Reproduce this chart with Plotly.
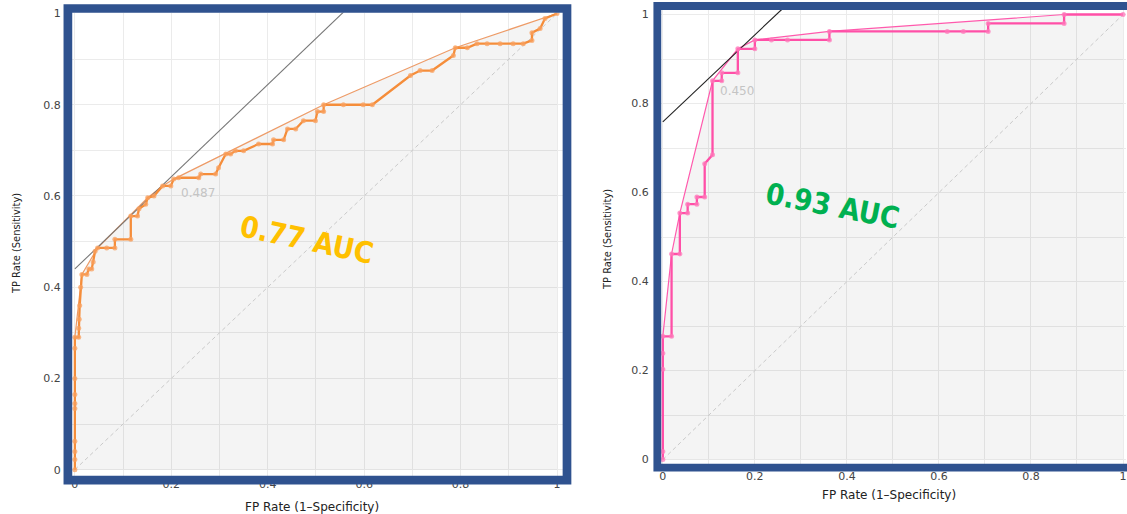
import plotly.graph_objects as go

W, H = 1127, 514

# ---- ROC points (FP rate, TP rate) ----
fpr_a = [0, 0, 0, 0, 0, 0, 0, 0, 0, 0,
         0.008, 0.008, 0.009, 0.010, 0.012, 0.0145, 0.025, 0.029, 0.035, 0.038,
         0.042, 0.047, 0.066, 0.083, 0.083, 0.116, 0.116, 0.130, 0.133, 0.147,
         0.151, 0.164, 0.182, 0.199, 0.205, 0.215, 0.257, 0.261, 0.292, 0.298,
         0.313, 0.323, 0.333, 0.350, 0.381, 0.410, 0.412, 0.433, 0.441, 0.458,
         0.474, 0.499, 0.503, 0.516, 0.516, 0.557, 0.598, 0.617, 0.696, 0.716,
         0.741, 0.785, 0.789, 0.814, 0.834, 0.855, 0.882, 0.909, 0.930, 0.948,
         0.948, 0.965, 0.975, 1.0]
tpr_a = [0, 0.022, 0.040, 0.062, 0.134, 0.145, 0.165, 0.200, 0.266, 0.290,
         0.290, 0.310, 0.330, 0.360, 0.400, 0.428, 0.428, 0.440, 0.440, 0.455,
         0.479, 0.486, 0.486, 0.486, 0.505, 0.505, 0.556, 0.556, 0.572, 0.582,
         0.596, 0.600, 0.622, 0.622, 0.637, 0.640, 0.640, 0.648, 0.648, 0.662,
         0.692, 0.692, 0.699, 0.699, 0.714, 0.714, 0.723, 0.723, 0.747, 0.747,
         0.765, 0.765, 0.785, 0.785, 0.800, 0.800, 0.800, 0.800, 0.864, 0.875,
         0.875, 0.908, 0.925, 0.925, 0.934, 0.934, 0.934, 0.934, 0.934, 0.941,
         0.958, 0.967, 0.989, 1.0]

fpr_b = [0, 0, 0, 0, 0, 0.019, 0.019, 0.037, 0.037, 0.054,
         0.054, 0.074, 0.074, 0.091, 0.091, 0.108, 0.108, 0.128, 0.128, 0.163,
         0.163, 0.200, 0.200, 0.236, 0.271, 0.362, 0.362, 0.618, 0.653, 0.707,
         0.707, 0.872, 0.872, 1.0]
tpr_b = [0, 0.018, 0.203, 0.239, 0.277, 0.277, 0.462, 0.462, 0.554, 0.554,
         0.574, 0.574, 0.590, 0.590, 0.665, 0.685, 0.851, 0.851, 0.869, 0.869,
         0.923, 0.923, 0.943, 0.943, 0.943, 0.943, 0.962, 0.962, 0.962, 0.962,
         0.980, 0.980, 1.0, 1.0]

# optimal-threshold tangent lines and their threshold labels
tangent_a_x = [0, 0.56]
tangent_a_y = [0.44, 1.006]
tangent_b_x = [0, 0.26]
tangent_b_y = [0.759, 1.013]
threshold_a = {"text": "0.487", "x": 0.217, "y": 0.607}
threshold_b = {"text": "0.450", "x": 0.119, "y": 0.829}

auc_a = 0.77
auc_b = 0.93

diag = [0, 1]


def upper_hull(xs, ys):
    pts = sorted(set(zip(xs, ys)))
    hull = []
    for p in pts:
        while len(hull) >= 2:
            (x1, y1), (x2, y2) = hull[-2], hull[-1]
            cross = (x2 - x1) * (p[1] - y1) - (y2 - y1) * (p[0] - x1)
            if cross >= 0:
                hull.pop()
            else:
                break
        hull.append(p)
    return [h[0] for h in hull], [h[1] for h in hull]


# vertical layout helper: pixel row -> paper fraction
V_OFF, V_SCALE = 4.5, 0.982


def py(p):
    return 1 - ((p - V_OFF) / V_SCALE) / H


def px(p):
    return p / W


fig = go.Figure()


def add_panel(xs, ys, tx, ty, color, marker_color, hull_color, tan_color, xa, ya):
    hx, hy = upper_hull(xs, ys)
    fig.add_trace(go.Scatter(x=hx, y=hy, mode="lines", fill="tozeroy",
                             fillcolor="rgba(0,0,0,0.045)",
                             line=dict(color=hull_color, width=1.2),
                             hoverinfo="skip", xaxis=xa, yaxis=ya))
    fig.add_trace(go.Scatter(x=diag, y=diag, mode="lines",
                             line=dict(color="#c9c9c9", width=1, dash="4px,3px"),
                             hoverinfo="skip", xaxis=xa, yaxis=ya))
    fig.add_trace(go.Scatter(x=tx, y=ty, mode="lines",
                             line=dict(color=tan_color, width=1.1),
                             hoverinfo="skip", xaxis=xa, yaxis=ya))
    fig.add_trace(go.Scatter(x=xs, y=ys, mode="lines+markers",
                             line=dict(color=color, width=2.3),
                             marker=dict(color=marker_color, size=5),
                             xaxis=xa, yaxis=ya))


add_panel(fpr_a, tpr_a, tangent_a_x, tangent_a_y, "#F58D3A",
          "rgba(248,160,95,0.75)", "rgba(236,150,95,0.95)", "#777777", "x", "y")
add_panel(fpr_b, tpr_b, tangent_b_x, tangent_b_y, "#FF4FA7",
          "rgba(255,120,185,0.75)", "#FF5AAD", "#222222", "x2", "y2")

grid = "#ebebeb"
tick_font = dict(family="DejaVu Sans", size=11, color="#444")


def axis(domain, rng, standoff):
    return dict(domain=domain, range=rng, dtick=0.2, tick0=0,
                showgrid=True, gridcolor=grid, gridwidth=1,
                minor=dict(dtick=0.1, tick0=0, showgrid=True, gridcolor=grid),
                zeroline=False, showline=False, ticks="",
                tickfont=tick_font, ticklabelstandoff=standoff,
                ticklabeloverflow="allow", fixedrange=True)


# left panel: x=0 at px 74, x=1 at px 557; y=0 at row 468, y=1 at row 13
# right panel: x=0 at px 663, x=1 at px 1124; y=0 at row 458, y=1 at row 14
fig.update_layout(
    xaxis=dict(**axis([px(71), px(563)], [(71 - 74) / 483, (563 - 74) / 483], 0), anchor="y"),
    yaxis=dict(**axis([py(474), py(12)], [(468 - 474) / 455, (468 - 12) / 455], 10), anchor="x"),
    xaxis2=dict(**axis([px(660), 1.0], [(660 - 663) / 461, (1127 - 663) / 461], 4), anchor="y2"),
    yaxis2=dict(**axis([py(462), py(9)], [(458 - 462) / 444, (458 - 9) / 444], 10), anchor="x2"),
)

frame = "#2F528F"
shapes = [
    dict(type="rect", xref="paper", yref="paper", layer="above",
         x0=px(67), x1=px(567), y0=py(478.5), y1=py(8),
         line=dict(color=frame, width=8.7), fillcolor="rgba(0,0,0,0)"),
    dict(type="rect", xref="paper", yref="paper", layer="above",
         x0=px(657.5), x1=1.03, y0=py(466), y1=py(5.5),
         line=dict(color=frame, width=7.8), fillcolor="rgba(0,0,0,0)"),
]

title_font = dict(family="DejaVu Sans", size=12, color="#222")
ytitle_font = dict(family="DejaVu Sans Condensed, DejaVu Sans", size=11, color="#222")
auc_font = "DejaVu Sans Condensed, DejaVu Sans, sans-serif"

annotations = [
    dict(text="FP Rate (1–Specificity)", xref="paper", yref="paper",
         x=px(312), y=py(505), showarrow=False, font=title_font,
         xanchor="center", yanchor="middle"),
    dict(text="FP Rate (1–Specificity)", xref="paper", yref="paper",
         x=px(890), y=py(493), showarrow=False, font=title_font,
         xanchor="center", yanchor="middle"),
    dict(text="TP Rate (Sensitivity)", xref="paper", yref="paper",
         x=px(15), y=py(242), showarrow=False, font=ytitle_font,
         textangle=-90, xanchor="center", yanchor="middle"),
    dict(text="TP Rate (Sensitivity)", xref="paper", yref="paper",
         x=px(607), y=py(238), showarrow=False, font=ytitle_font,
         textangle=-90, xanchor="center", yanchor="middle"),
    dict(text=threshold_a["text"], xref="x", yref="y", x=threshold_a["x"], y=threshold_a["y"],
         showarrow=False, xanchor="left", yanchor="middle",
         font=dict(family="DejaVu Sans", size=12, color="#c4c4c4")),
    dict(text=threshold_b["text"], xref="x2", yref="y2", x=threshold_b["x"], y=threshold_b["y"],
         showarrow=False, xanchor="left", yanchor="middle",
         font=dict(family="DejaVu Sans", size=12, color="#c4c4c4")),
    dict(text=f"<b>{auc_a:.2f} AUC</b>", xref="x", yref="y", x=0.48, y=0.503,
         showarrow=False, textangle=12, xanchor="center", yanchor="middle",
         font=dict(family=auc_font, size=29.5, color="#FFC000")),
    dict(text=f"<b>{auc_b:.2f} AUC</b>", xref="x2", yref="y2", x=0.369, y=0.57,
         showarrow=False, textangle=11, xanchor="center", yanchor="middle",
         font=dict(family=auc_font, size=29.5, color="#00B050")),
]

fig.update_layout(
    width=W, height=H, margin=dict(l=0, r=0, t=0, b=0),
    paper_bgcolor="white", plot_bgcolor="white",
    showlegend=False, shapes=shapes, annotations=annotations,
)

fig.write_html("out.html")
